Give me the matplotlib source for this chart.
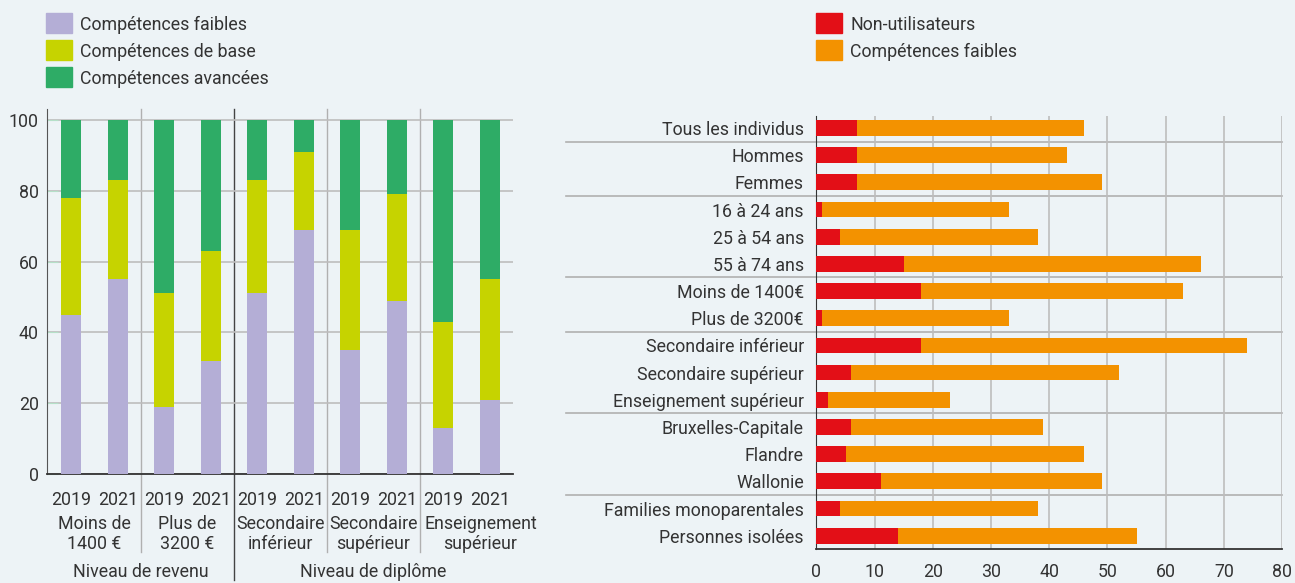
import matplotlib
matplotlib.use("Agg")
import matplotlib.pyplot as plt
from matplotlib.patches import Rectangle

# --- data: left chart (stacked columns, %) ---
years = ["2019", "2021"] * 5
groups = ["Moins de\n1400 €", "Plus de\n3200 €", "Secondaire\ninférieur",
          "Secondaire\nsupérieur", "Enseignement\nsupérieur"]
families = ["Niveau de revenu", "Niveau de diplôme"]
faibles = [45, 55, 19, 32, 51, 69, 35, 49, 13, 21]
base = [33, 28, 32, 31, 32, 22, 34, 30, 30, 34]
avancees = [22, 17, 49, 37, 17, 9, 31, 21, 57, 45]
legend_left = ["Compétences faibles", "Compétences de base", "Compétences avancées"]

# --- data: right chart (stacked horizontal bars, %) ---
categories = ["Tous les individus", "Hommes", "Femmes", "16 à 24 ans", "25 à 54 ans",
              "55 à 74 ans", "Moins de 1400€", "Plus de 3200€", "Secondaire inférieur",
              "Secondaire supérieur", "Enseignement supérieur", "Bruxelles-Capitale",
              "Flandre", "Wallonie", "Families monoparentales", "Personnes isolées"]
non_utilisateurs = [7, 7, 7, 1, 4, 15, 18, 1, 18, 6, 2, 6, 5, 11, 4, 14]
comp_faibles = [39, 36, 42, 32, 34, 51, 45, 32, 56, 46, 21, 33, 41, 38, 34, 41]
legend_right = ["Non-utilisateurs", "Compétences faibles"]

# colours
bg = "#edf3f6"
c_faibles = "#b4aed6"
c_base = "#c6d300"
c_avance = "#2eac66"
c_red = "#e30f17"
c_orange = "#f39200"
c_text = "#333333"
c_grid = "#bdbdbd"
fs = 12.8

plt.rcParams["font.family"] = ["Roboto", "DejaVu Sans"]
plt.rcParams["font.size"] = fs
plt.rcParams["text.color"] = c_text
plt.rcParams["xtick.color"] = c_text
plt.rcParams["ytick.color"] = c_text

W, H = 1295, 583
fig = plt.figure(figsize=(W / 100, H / 100), dpi=100, facecolor=bg)


def legend(x0, labels, colors):
    # swatch + label rows, positioned in pixels from the top-left corner
    for i, (lab, col) in enumerate(zip(labels, colors)):
        yc = 23 + 27 * i
        fig.add_artist(Rectangle((x0 / W, 1 - (yc + 10) / H), 26 / W, 20 / H,
                                 transform=fig.transFigure, color=col))
        fig.text((x0 + 34) / W, 1 - (yc + 2) / H, lab, ha="left", va="center", fontsize=fs)


# ---------------- left chart ----------------
ax = fig.add_axes([0.0363, 0.187, 0.3595, 0.6253])
ax.set_facecolor(bg)
x = list(range(len(years)))
bw = 0.43
bottom2 = [a + b for a, b in zip(faibles, base)]
ax.bar(x, faibles, width=bw, color=c_faibles, zorder=3)
ax.bar(x, base, width=bw, bottom=faibles, color=c_base, zorder=3)
ax.bar(x, avancees, width=bw, bottom=bottom2, color=c_avance, zorder=3)

ax.set_xlim(-0.52, 9.49)
ax.set_ylim(0, 103)
ax.set_yticks([0, 20, 40, 60, 80, 100])
ax.yaxis.grid(True, color=c_grid, linewidth=1.2, zorder=0)
ax.tick_params(axis="y", length=8, direction="in", color="#b5e0c8", pad=6, labelsize=fs)
ax.set_xticks(x)
ax.set_xticklabels(years)
ax.tick_params(axis="x", length=0, pad=12, labelsize=fs)
for s in ["top", "right"]:
    ax.spines[s].set_visible(False)
ax.spines["left"].set_color("#555555")
ax.spines["bottom"].set_color("#333333")
ax.spines["bottom"].set_linewidth(1.3)

# separators
for xs in [1.5, 5.5, 7.5]:
    ax.axvline(xs, ymin=-0.214, ymax=1, color="#b0b0b0", linewidth=1, clip_on=False, zorder=1)
ax.axvline(3.5, ymin=-0.291, ymax=1, color="#444444", linewidth=1, clip_on=False, zorder=1)

trans = ax.get_xaxis_transform()
group_x = [0.5, 2.5, 4.5, 6.5, 8.8]
for gx, g in zip(group_x, groups):
    ax.text(gx, -0.165, g, transform=trans, ha="center", va="center",
            fontsize=fs, linespacing=1.1)
ax.text(1.5, -0.27, families[0], transform=trans, ha="center", va="center", fontsize=fs)
ax.text(6.5, -0.27, families[1], transform=trans, ha="center", va="center", fontsize=fs)

legend(46, legend_left, [c_faibles, c_base, c_avance])

# ---------------- right chart ----------------
ax2 = fig.add_axes([0.6305, 0.0583, 0.3595, 0.7427])
ax2.set_facecolor(bg)
y = list(range(len(categories)))
ax2.barh(y, non_utilisateurs, height=0.58, color=c_red, zorder=3)
ax2.barh(y, comp_faibles, height=0.58, left=non_utilisateurs, color=c_orange, zorder=3)
ax2.set_ylim(15.49, -0.44)
ax2.set_xlim(0, 80)
ax2.set_xticks(range(0, 81, 10))
ax2.set_yticks(y)
ax2.set_yticklabels(categories)
ax2.tick_params(axis="y", length=0, pad=9, labelsize=fs)
ax2.tick_params(axis="x", length=0, pad=10, labelsize=fs)
ax2.xaxis.grid(True, color=c_grid, linewidth=1.2, zorder=0)
for s in ["top", "right"]:
    ax2.spines[s].set_visible(False)
ax2.spines["left"].set_color("#333333")
ax2.spines["bottom"].set_color("#333333")
ax2.spines["bottom"].set_linewidth(1.3)

for ys in [0.5, 2.5, 5.5, 7.5, 10.5, 13.5]:
    ax2.axhline(ys, xmin=-0.538, xmax=1, color="#b0b0b0", linewidth=1.2, clip_on=False, zorder=1)

legend(816, legend_right, [c_red, c_orange])

fig.savefig("out.png", dpi=100, facecolor=bg)
